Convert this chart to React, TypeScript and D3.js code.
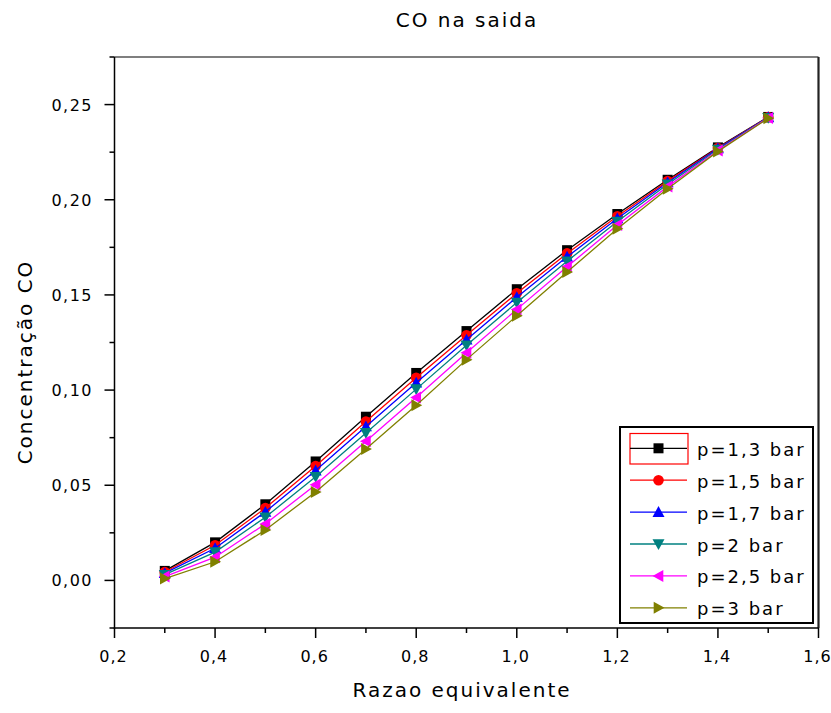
import React from "react";
import * as d3 from "d3";

const xValues = [0.3, 0.4, 0.5, 0.6, 0.7, 0.8, 0.9, 1.0, 1.1, 1.2, 1.3, 1.4, 1.5];
const p13 = [0.0050, 0.0200, 0.0400, 0.0625, 0.0860, 0.1090, 0.1310, 0.1530, 0.1735, 0.1925, 0.2105, 0.2275, 0.2435];
const p15 = [0.0044, 0.0185, 0.0380, 0.0601, 0.0835, 0.1065, 0.1288, 0.1509, 0.1718, 0.1913, 0.2098, 0.2272, 0.2434];
const p17 = [0.0038, 0.0169, 0.0360, 0.0577, 0.0809, 0.1039, 0.1265, 0.1488, 0.1700, 0.1902, 0.2091, 0.2269, 0.2433];
const p20 = [0.0030, 0.0149, 0.0332, 0.0545, 0.0775, 0.1005, 0.1235, 0.1460, 0.1677, 0.1886, 0.2081, 0.2264, 0.2431];
const p25 = [0.0020, 0.0122, 0.0297, 0.0503, 0.0731, 0.0961, 0.1196, 0.1424, 0.1648, 0.1867, 0.2069, 0.2259, 0.2430];
const p30 = [0.0010, 0.0098, 0.0265, 0.0465, 0.0690, 0.0920, 0.1160, 0.1390, 0.1620, 0.1848, 0.2058, 0.2254, 0.2428];

const seriesNames = ["p=1,3 bar", "p=1,5 bar", "p=1,7 bar", "p=2 bar", "p=2,5 bar", "p=3 bar"];
const seriesValues = [p13, p15, p17, p20, p25, p30];
const seriesColors = ["#000000", "#ff0000", "#0000ff", "#008080", "#ff00ff", "#808000"];
const seriesShapes = ["square", "circle", "up", "down", "left", "right"];

const xMajorTicks = [0.2, 0.4, 0.6, 0.8, 1.0, 1.2, 1.4, 1.6];
const xMinorTicks = [0.3, 0.5, 0.7, 0.9, 1.1, 1.3, 1.5];
const yMajorTicks = [0.0, 0.05, 0.1, 0.15, 0.2, 0.25];
const yMinorTicks = [-0.025, 0.025, 0.075, 0.125, 0.175, 0.225, 0.275];

const title = "CO na saida";
const xTitle = "Razao equivalente";
const yTitle = "Concentração CO";

const W = 831;
const H = 713;
const left = 114.5;
const right = 818.5;
const top = 57;
const bottom = 628;

const fmt = (v: number, d: number) => v.toFixed(d).replace(".", ",");

function Marker({ shape, cx, cy, color }: { shape: string; cx: number; cy: number; color: string }) {
  const s = 5;
  if (shape === "square") return <rect x={cx - s} y={cy - s} width={2 * s} height={2 * s} fill={color} />;
  if (shape === "circle") return <circle cx={cx} cy={cy} r={5.3} fill={color} />;
  let pts: [number, number][] = [];
  const t = 6;
  if (shape === "up") pts = [[cx, cy - t], [cx + t, cy + t * 0.8], [cx - t, cy + t * 0.8]];
  if (shape === "down") pts = [[cx, cy + t], [cx + t, cy - t * 0.8], [cx - t, cy - t * 0.8]];
  if (shape === "left") pts = [[cx - t, cy], [cx + t * 0.8, cy - t], [cx + t * 0.8, cy + t]];
  if (shape === "right") pts = [[cx + t, cy], [cx - t * 0.8, cy - t], [cx - t * 0.8, cy + t]];
  return <polygon points={pts.map((p) => p.join(",")).join(" ")} fill={color} />;
}

export default function App() {
  const x = d3.scaleLinear().domain([0.2, 1.6]).range([left, right]);
  const y = d3.scaleLinear().domain([-0.025, 0.275]).range([bottom, top]);
  const line = d3
    .line<[number, number]>()
    .x((d) => x(d[0]))
    .y((d) => y(d[1]));

  const font = "'DejaVu Sans', Verdana, sans-serif";

  const legX = 620;
  const legY = 427;
  const legW = 193;
  const legH = 196;
  const rowY0 = 448.3;
  const rowStep = 31.9;

  return (
    <svg width={W} height={H} style={{ position: "absolute", left: 0, top: 0, background: "#fff" }} fontFamily={font}>
      <rect x={0} y={0} width={W} height={H} fill="#fff" />
      {/* frame */}
      <line x1={left} y1={top} x2={right} y2={top} stroke="#555" strokeWidth={1.5} />
      <line x1={right} y1={top} x2={right} y2={bottom} stroke="#222" strokeWidth={2.2} />

      {/* series */}
      {seriesValues.map((vals, i) => {
        const data: [number, number][] = xValues.map((xv, j) => [xv, vals[j]]);
        return (
          <g key={seriesNames[i]}>
            <path d={line(data) || ""} fill="none" stroke={seriesColors[i]} strokeWidth={1.3} />
            {data.map((d, j) => (
              <Marker key={j} shape={seriesShapes[i]} cx={x(d[0])} cy={y(d[1])} color={seriesColors[i]} />
            ))}
          </g>
        );
      })}

      {/* axes */}
      <line x1={left} y1={top} x2={left} y2={bottom + 0.75} stroke="#000" strokeWidth={1.5} />
      <line x1={left - 0.75} y1={bottom} x2={right} y2={bottom} stroke="#000" strokeWidth={1.5} />
      {xMajorTicks.map((t) => (
        <g key={"xM" + t}>
          <line x1={x(t)} y1={bottom} x2={x(t)} y2={bottom + 10} stroke="#000" strokeWidth={1.5} />
          <text x={x(t) - 1} y={662} fontSize={16} letterSpacing={1} textAnchor="middle" fill="#000">
            {fmt(t, 1)}
          </text>
        </g>
      ))}
      {xMinorTicks.map((t) => (
        <line key={"xm" + t} x1={x(t)} y1={bottom} x2={x(t)} y2={bottom + 5} stroke="#000" strokeWidth={1.5} />
      ))}
      {yMajorTicks.map((t) => (
        <g key={"yM" + t}>
          <line x1={left} y1={y(t)} x2={left - 10} y2={y(t)} stroke="#000" strokeWidth={1.5} />
          <text x={93} y={y(t) + 6} fontSize={16} letterSpacing={1.5} textAnchor="end" fill="#000">
            {fmt(t, 2)}
          </text>
        </g>
      ))}
      {yMinorTicks.map((t) => (
        <line key={"ym" + t} x1={left} y1={y(t)} x2={left - 5} y2={y(t)} stroke="#000" strokeWidth={1.5} />
      ))}

      {/* titles */}
      <text x={467} y={27} fontSize={20} letterSpacing={2} textAnchor="middle" fill="#000">
        {title}
      </text>
      <text x={462} y={697} fontSize={20} letterSpacing={2} textAnchor="middle" fill="#000">
        {xTitle}
      </text>
      <text
        transform={`translate(32, 362) rotate(-90)`}
        fontSize={20}
        letterSpacing={2}
        textAnchor="middle"
        fill="#000"
      >
        {yTitle}
      </text>

      {/* legend */}
      <rect x={legX} y={legY} width={legW} height={legH} fill="#fff" stroke="#000" strokeWidth={2} />
      <rect x={630} y={433.5} width={58} height={30.5} fill="none" stroke="#ff0000" strokeWidth={1.2} />
      {seriesNames.map((name, i) => {
        const cy = rowY0 + i * rowStep;
        return (
          <g key={"leg" + name}>
            <line x1={630} y1={cy} x2={687} y2={cy} stroke={seriesColors[i]} strokeWidth={1.3} />
            <Marker shape={seriesShapes[i]} cx={658.5} cy={cy} color={seriesColors[i]} />
            <text x={697} y={cy + 7.5} fontSize={18} letterSpacing={2} fill="#000">
              {name}
            </text>
          </g>
        );
      })}
    </svg>
  );
}
